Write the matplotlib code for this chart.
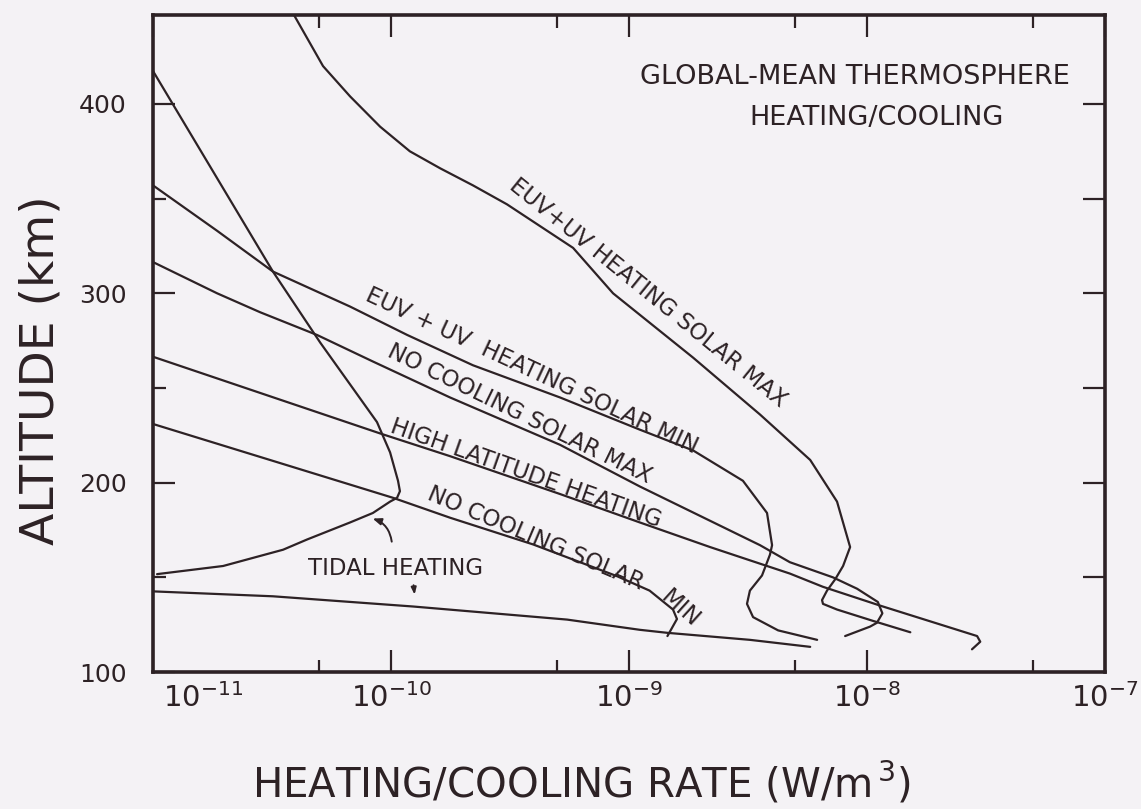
import numpy as np
import matplotlib
matplotlib.use('Agg')
import matplotlib.pyplot as plt
from matplotlib.ticker import FixedLocator, NullFormatter
from matplotlib.transforms import ScaledTranslation

plt.rcParams['font.family'] = 'DejaVu Sans'

ink = '#2d2225'
bg = '#f4f2f5'

# heating / cooling rate (W/m3) against altitude (km)
euv_max_rate = [3.87e-11, 5.18e-11, 6.73e-11, 9.0e-11, 1.20e-10, 1.61e-10, 2.21e-10, 3.07e-10,
                5.82e-10, 8.57e-10, 1.86e-9, 3.55e-9, 5.77e-9, 7.48e-9, 8.49e-9, 7.93e-9,
                7.35e-9, 6.79e-9, 6.47e-9, 6.53e-9, 7.48e-9, 1.06e-8, 1.52e-8]
euv_max_alt = [448, 420, 404, 388, 375, 366, 357, 347,
               324, 300, 266, 236, 212, 190, 166, 156,
               149, 143, 138, 136, 133, 127, 121]

euv_min_rate = [1.0e-11, 1.86e-11, 3.19e-11, 6.73e-11, 1.17e-10, 2.21e-10, 5.13e-10, 1.11e-9,
                1.86e-9, 3.01e-9, 3.80e-9, 3.99e-9, 3.91e-9, 3.62e-9, 3.22e-9, 3.13e-9,
                3.32e-9, 4.23e-9, 6.17e-9]
euv_min_alt = [357, 333, 311.5, 293, 278, 262, 245, 228,
               217, 201, 184, 167, 162, 151, 143, 136,
               129, 122, 117]

no_max_rate = [1.0e-11, 1.86e-11, 2.82e-11, 4.89e-11, 8.39e-11, 1.77e-10, 5.13e-10, 1.11e-9,
               3.55e-9, 4.74e-9, 7.19e-9, 9.08e-9, 1.11e-8, 1.16e-8, 1.10e-8, 1.03e-8, 8.09e-9]
no_max_alt = [316.5, 300, 290, 278, 264, 245, 220, 198,
              167, 158, 150, 144, 137, 131, 126, 124, 119]

hilat_rate = [1.0e-11, 9.0e-11, 1.77e-10, 5.13e-10, 1.11e-9, 2.19e-9, 3.22e-9, 4.74e-9,
              6.53e-9, 1.14e-8, 2.90e-8, 2.99e-8, 2.76e-8]
hilat_alt = [266.5, 226, 214, 194, 179, 166, 159, 152,
             145, 135, 119, 116, 112]

no_min_rate = [1.0e-11, 1.02e-10, 1.77e-10, 3.95e-10, 8.91e-10, 1.22e-9, 1.53e-9, 1.59e-9, 1.45e-9]
no_min_alt = [231, 192, 181.5, 167.4, 150.6, 143, 133, 128, 119]

tidal_rate = [1.0e-11, 1.21e-11, 3.19e-11, 5.04e-11, 8.73e-11, 9.91e-11, 1.07e-10, 1.09e-10,
              1.06e-10, 9.91e-11, 8.39e-11, 6.73e-11, 4.44e-11, 3.52e-11, 1.97e-11, 1.04e-11]
tidal_alt = [417.4, 400, 311.5, 274, 232, 216, 201, 195.5,
             192, 190, 184, 179, 170, 164.6, 156, 151.7]

tidal2_rate = [1.0e-11, 3.19e-11, 1.24e-10, 5.49e-10, 1.11e-9, 1.45e-9, 3.22e-9, 5.77e-9]
tidal2_alt = [142.6, 140, 134.6, 127.7, 122.3, 120.7, 117, 113.3]

curves = [(euv_max_rate, euv_max_alt), (euv_min_rate, euv_min_alt), (no_max_rate, no_max_alt),
          (hilat_rate, hilat_alt), (no_min_rate, no_min_alt), (tidal_rate, tidal_alt),
          (tidal2_rate, tidal2_alt)]

fig = plt.figure(figsize=(11.41, 8.09), dpi=100)
fig.patch.set_facecolor(bg)
ax = fig.add_axes([0.1341, 0.1693, 0.8344, 0.8122])
ax.set_facecolor(bg)

for r, a in curves:
    ax.plot(r, a, color=ink, lw=1.6, solid_joinstyle='round', solid_capstyle='round')

ax.set_xscale('log')
ax.set_xlim(1e-11, 1e-7)
ax.set_ylim(100, 447)

ax.xaxis.set_major_locator(FixedLocator([1e-11, 1e-10, 1e-9, 1e-8, 1e-7]))
ax.xaxis.set_minor_locator(FixedLocator([5e-11, 5e-10, 5e-9, 5e-8]))
ax.xaxis.set_minor_formatter(NullFormatter())
ax.yaxis.set_major_locator(FixedLocator([100, 200, 300, 400]))
ax.yaxis.set_minor_locator(FixedLocator([150, 250, 350]))

ax.tick_params(which='both', direction='in', top=True, right=False, color=ink, width=1.6)
ax.tick_params(which='major', length=16)
ax.tick_params(which='minor', length=9)
ax.tick_params(axis='x', labelsize=21, pad=8, labelcolor=ink)
ax.tick_params(axis='y', labelsize=18, pad=19, labelcolor=ink)

sec = ax.secondary_yaxis('right')
sec.set_yticks([150, 200, 250, 300, 350, 400])
sec.tick_params(direction='in', length=16, width=1.6, color=ink, labelright=False)
sec.spines['right'].set_visible(False)

for s in ax.spines.values():
    s.set_linewidth(2.6)
    s.set_color(ink)

first = ax.xaxis.get_major_ticks()[0].label1
first.set_horizontalalignment('left')
first.set_transform(first.get_transform() + ScaledTranslation(7 / 72, 0, fig.dpi_scale_trans))

ax.set_xlabel('HEATING/COOLING RATE (W/m$^{\\,3}$)', fontsize=29, color=ink)
ax.set_ylabel('ALTITUDE (km)', fontsize=34, color=ink)
ax.xaxis.set_label_coords(0.45, -0.135)
ax.yaxis.set_label_coords(-0.094, 0.46)

ax.text(0.737, 0.9056, 'GLOBAL-MEAN THERMOSPHERE', transform=ax.transAxes, fontsize=19.5,
        ha='center', va='center', color=ink)
ax.text(0.7605, 0.843, 'HEATING/COOLING', transform=ax.transAxes, fontsize=19.5,
        ha='center', va='center', color=ink)

lab = dict(fontsize=16.5, color=ink, ha='center', va='center', rotation_mode='anchor')
ax.text(1.20e-9, 300, 'EUV+UV HEATING SOLAR MAX', rotation=-39, **lab)
ax.text(3.91e-10, 258.8, 'EUV + UV  HEATING SOLAR MIN', rotation=-25, **lab)
ax.text(3.48e-10, 236.4, 'NO COOLING SOLAR MAX', rotation=-26, **lab)
ax.text(3.69e-10, 204.9, 'HIGH LATITUDE HEATING', rotation=-19.5, **lab)
ax.text(4.03e-10, 170.8, 'NO COOLING SOLAR', rotation=-23, **lab)
ax.text(1.65e-9, 133.5, 'MIN', rotation=-42, **lab)
ax.text(1.04e-10, 154.5, 'TIDAL HEATING', **lab)

ax.annotate('', xy=(8.16e-11, 181.5), xytext=(1.01e-10, 167.4),
            arrowprops=dict(arrowstyle='-|>,head_length=0.5,head_width=0.2', color=ink, lw=1.4,
                            connectionstyle='arc3,rad=0.35'))
ax.annotate('', xy=(1.26e-10, 139.4), xytext=(1.24e-10, 147.3),
            arrowprops=dict(arrowstyle='-|>,head_length=0.4,head_width=0.15', color=ink, lw=1.4))

fig.savefig('out.png', dpi=100, facecolor=bg)
